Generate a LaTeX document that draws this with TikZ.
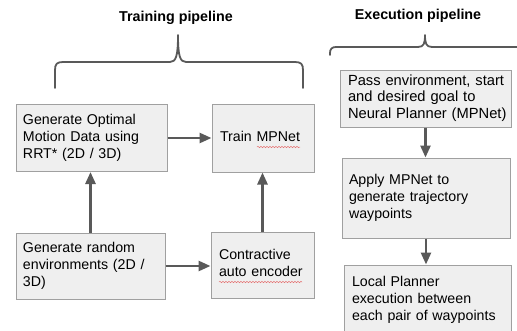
\documentclass[tikz,border=0pt]{standalone}
\usepackage{fontspec}
\setmainfont{Liberation Sans}
\usetikzlibrary{arrows.meta,calc,decorations.pathmorphing}

\definecolor{boxfill}{HTML}{EFEFEF}
\definecolor{boxline}{HTML}{A0A0A0}
\definecolor{ink}{HTML}{595959}
\definecolor{spell}{HTML}{E57373}

% left-aligned block of lines that never re-wraps
\newcommand{\linesblock}[1]{\begin{tabular}{@{}l@{}}#1\end{tabular}}

\tikzset{
  stepbox/.style={draw=boxline, line width=1pt, fill=boxfill, rectangle,
    align=left, anchor=center, inner ysep=0pt,
    font=\fontsize{14.2}{16.8}\selectfont},
  flow/.style={draw=ink, line width=2.6pt,
    -{Triangle[length=12pt,width=10pt]}},
  bracket/.style={draw=ink, line width=1.8pt, line cap=round, line join=round},
  title/.style={font=\bfseries\fontsize{14.3}{17}\selectfont, text=black},
  squiggle/.style={draw=spell, line width=0.5pt,
    decorate, decoration={snake, amplitude=0.7pt, segment length=3pt}}
}

\begin{document}
\begin{tikzpicture}[x=1pt,y=-1pt]
\useasboundingbox (0,0) rectangle (517,330);
\clip (0,0) rectangle (517,330);

% section titles
\node[title] (ttrain) at (176,18) {Training pipeline};
\node[title] (texec) at (418,16) {Execution pipeline};

% curly brackets over each pipeline
\draw[bracket] (55,88) -- (55,70) .. controls (55,64) and (57,62) .. (63,62)
  -- (170,62) .. controls (176,62) and (178,56) .. (178,35)
  .. controls (178,56) and (180,62) .. (186,62)
  -- (295,62) .. controls (301,62) and (303,64) .. (303,70) -- (303,88);
\draw[bracket] (330,55) -- (330,53) .. controls (330,49) and (332,47) .. (336,47)
  -- (418,47) .. controls (424,47) and (425,43) .. (425,35)
  .. controls (425,43) and (426,47) .. (432,47)
  -- (530,47);

% training pipeline boxes
\node[stepbox, minimum width=151pt, minimum height=67pt, text width=137pt]
  (gen) at (91.5,138) {\linesblock{Generate Optimal\\Motion Data using\\RRT* (2D / 3D)}};
\node[stepbox, minimum width=102pt, minimum height=68pt, text width=86pt]
  (train) at (263,138) {\linesblock{Train MPNet}};
\node[stepbox, minimum width=149pt, minimum height=66pt, text width=135pt]
  (env) at (90.5,266) {\linesblock{Generate random\\environments (2D /\\3D)}};
\node[stepbox, minimum width=103pt, minimum height=66pt, text width=87pt]
  (cae) at (262.5,265) {\linesblock{Contractive\\auto encoder}};

% execution pipeline boxes
\node[stepbox, minimum width=171pt, minimum height=57pt, text width=155pt,
  font=\fontsize{14.7}{16.4}\selectfont]
  (pass) at (425.5,98.5) {\linesblock{Pass environment, start\\and desired goal to\\Neural Planner (MPNet)}};
\node[stepbox, minimum width=168pt, minimum height=80pt, text width=154pt]
  (apply) at (426,198) {\linesblock{Apply MPNet to\\generate trajectory\\waypoints}};
\node[stepbox, minimum width=167pt, minimum height=70pt, text width=151pt]
  (local) at (427.5,300) {\linesblock{Local Planner\\execution between\\each pair of waypoints}};

% spell-check underlines
\draw[squiggle] (257,147) -- (300,147);
\draw[squiggle] (219,282) -- (302,282);

% connectors
\draw[flow] (gen.east) -- (train.west);
\draw[flow] (env.east) -- (env.east -| cae.west);
\draw[flow] (env.north) -- (env.north |- gen.south);
\draw[flow] (cae.north) -- (cae.north |- train.south);
\draw[flow] (pass.south) -- (pass.south |- apply.north);
\draw[flow] (apply.south) -- (apply.south |- local.north);
\end{tikzpicture}
\end{document}
